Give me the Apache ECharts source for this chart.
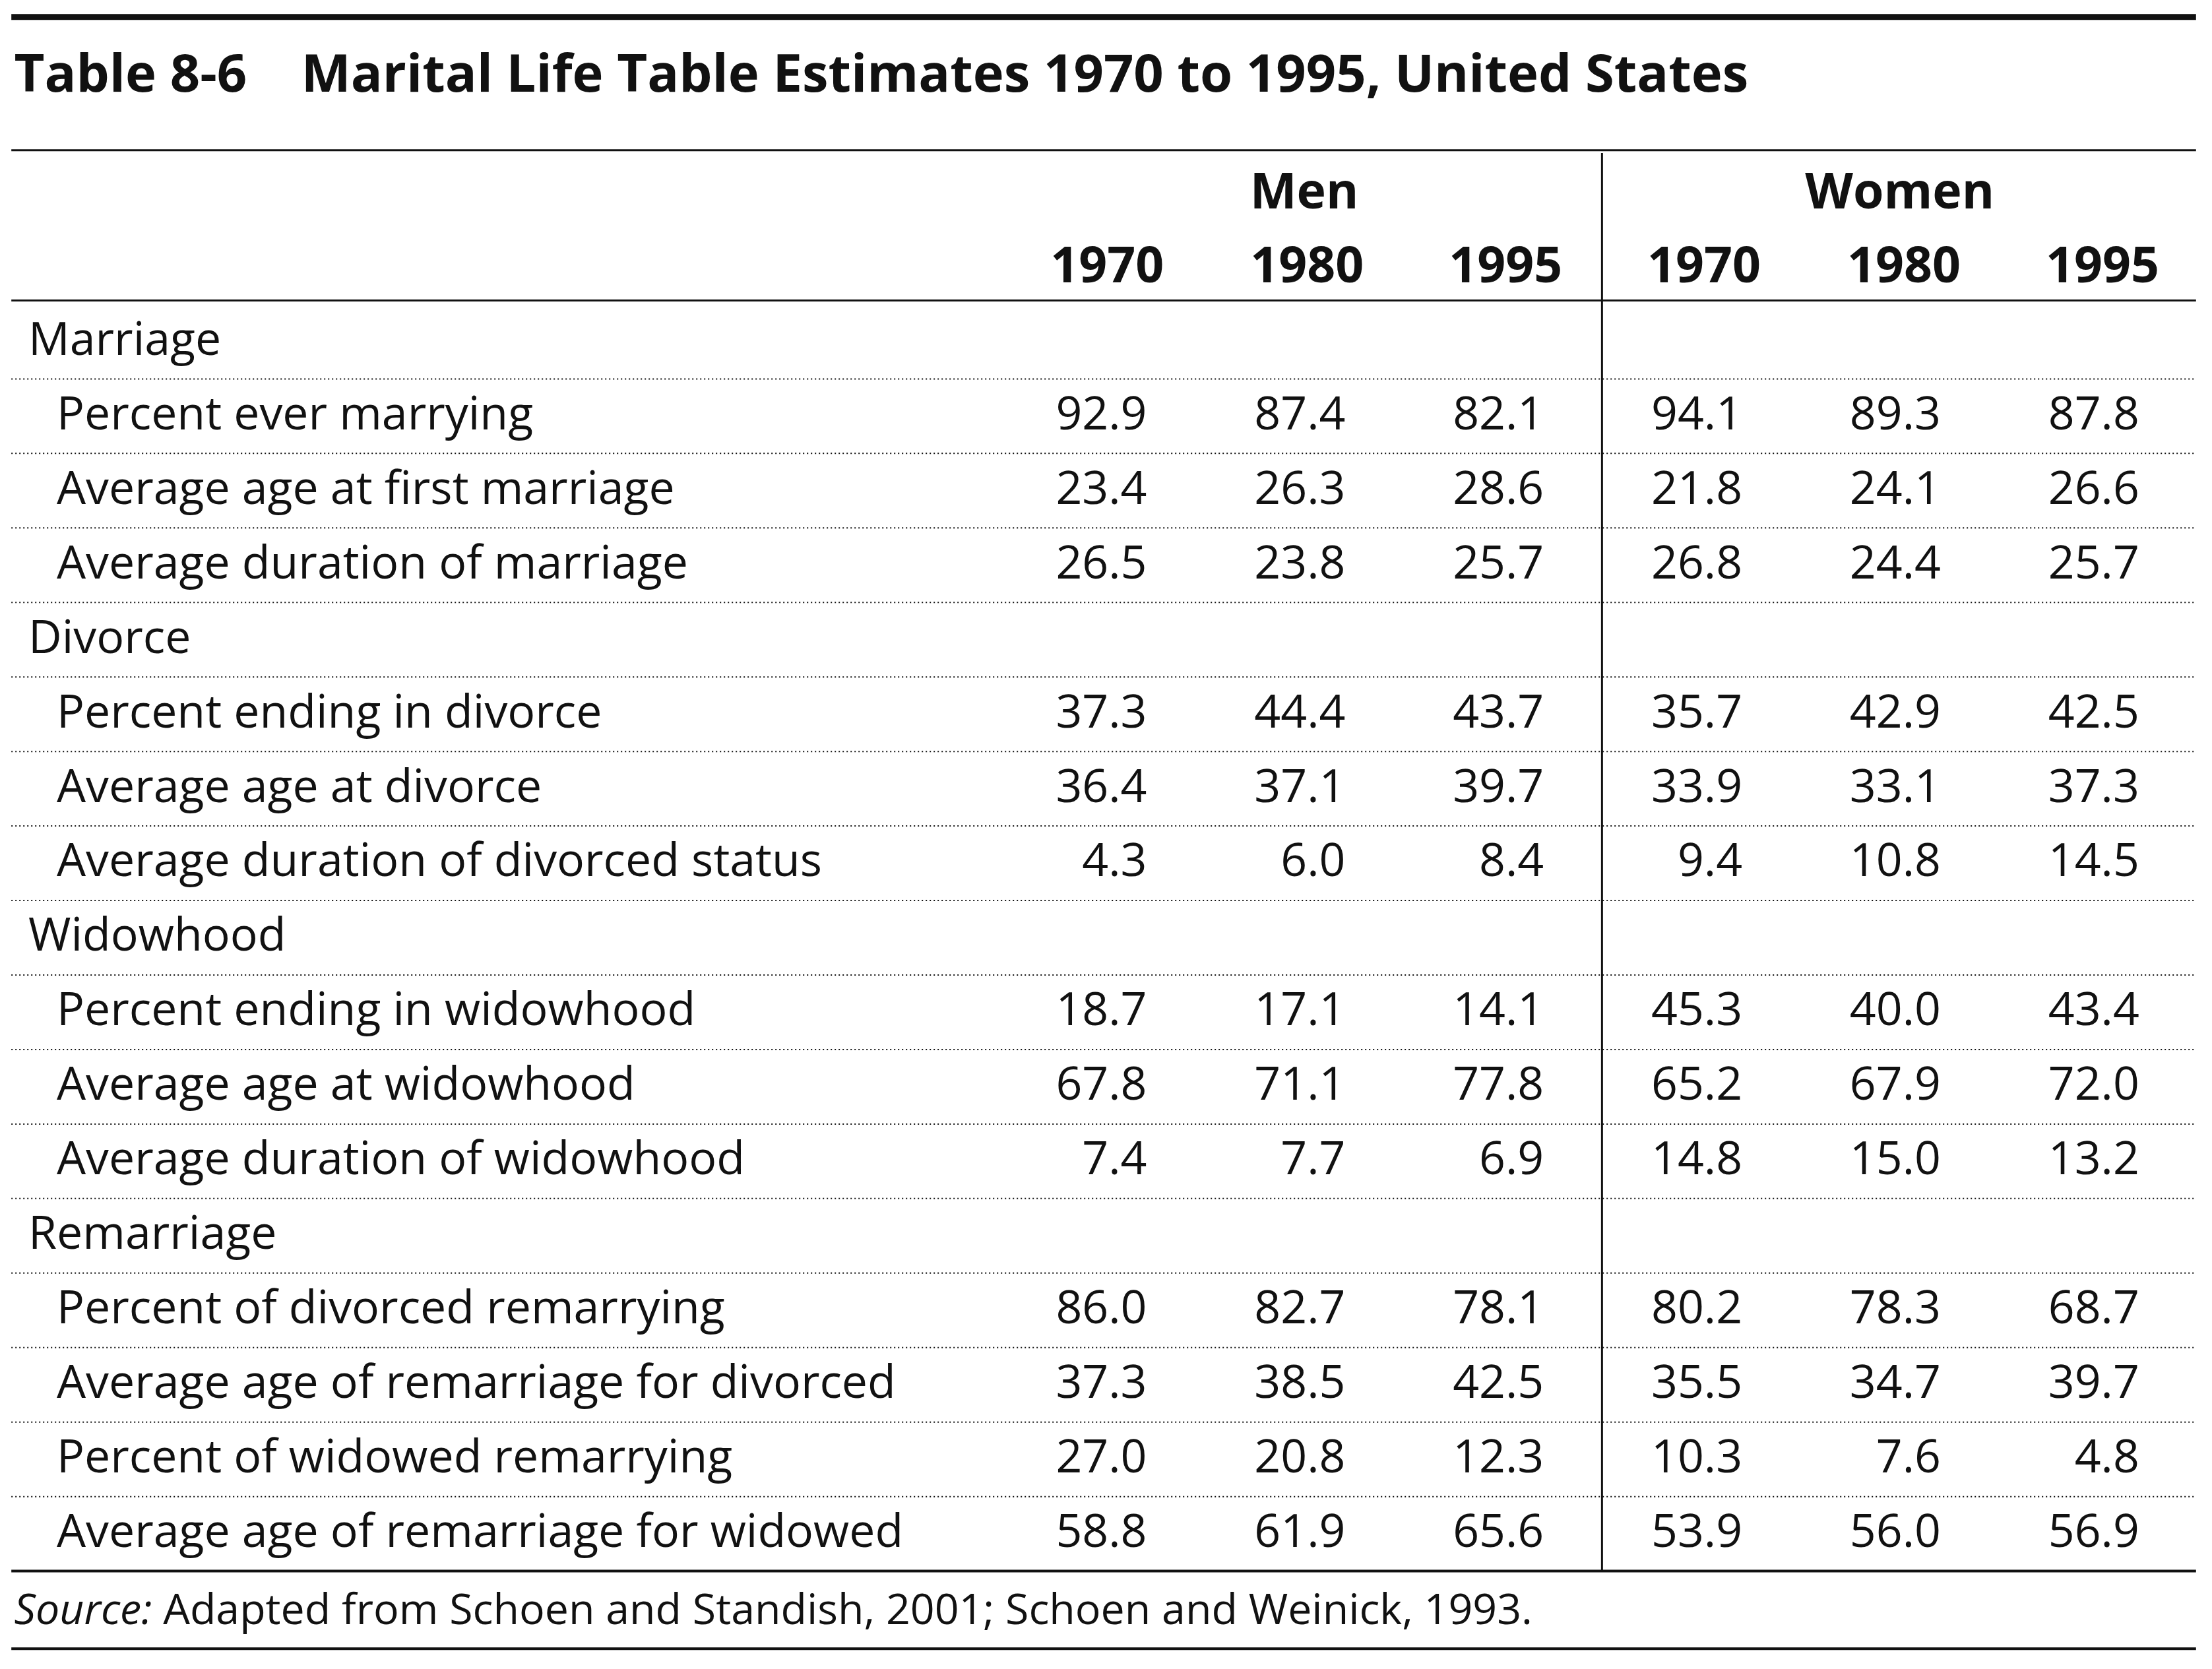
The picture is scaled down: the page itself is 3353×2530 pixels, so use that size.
<!DOCTYPE html>
<html>
<head>
<meta charset="utf-8"/>
<title>Table 8-6</title>
<script src="https://cdn.jsdelivr.net/npm/echarts@6/dist/echarts.min.js"></script>
<style>html,body{margin:0;background:#fff}#main{width:3353px;height:2530px}</style>
</head>
<body>
<div id="main"></div>
<script>
var title = 'Table 8-6    Marital Life Table Estimates 1970 to 1995, United States';
var groups = ['Men', 'Women'];
var years = ['1970', '1980', '1995', '1970', '1980', '1995'];
var sections = ['Marriage', 'Divorce', 'Widowhood', 'Remarriage'];
var rowLabels = [
    ['Percent ever marrying', 'Average age at first marriage', 'Average duration of marriage'],
    ['Percent ending in divorce', 'Average age at divorce', 'Average duration of divorced status'],
    ['Percent ending in widowhood', 'Average age at widowhood', 'Average duration of widowhood'],
    ['Percent of divorced remarrying', 'Average age of remarriage for divorced', 'Percent of widowed remarrying', 'Average age of remarriage for widowed']
];
var values = [
    [['92.9','87.4','82.1','94.1','89.3','87.8'], ['23.4','26.3','28.6','21.8','24.1','26.6'], ['26.5','23.8','25.7','26.8','24.4','25.7']],
    [['37.3','44.4','43.7','35.7','42.9','42.5'], ['36.4','37.1','39.7','33.9','33.1','37.3'], ['4.3','6.0','8.4','9.4','10.8','14.5']],
    [['18.7','17.1','14.1','45.3','40.0','43.4'], ['67.8','71.1','77.8','65.2','67.9','72.0'], ['7.4','7.7','6.9','14.8','15.0','13.2']],
    [['86.0','82.7','78.1','80.2','78.3','68.7'], ['37.3','38.5','42.5','35.5','34.7','39.7'], ['27.0','20.8','12.3','10.3','7.6','4.8'], ['58.8','61.9','65.6','53.9','56.0','56.9']]
];
var sourceNote = 'Adapted from Schoen and Standish, 2001; Schoen and Weinick, 1993.';

var S = 2.149;
var FONT = '"Open Sans", "Noto Sans", sans-serif';
var FS = 32.5 * S;
var HS = 35 * S;
var valRight = [809, 949, 1089, 1229, 1369, 1509];
var yearRight = [821, 962, 1102, 1242, 1383, 1523];
var L = 8, R = 1549, divX = 1130;
var rowTop = 241, pitch = 52.56;

var g = [];
function txt(x, y, s, opt) {
    opt = opt || {};
    g.push({type: 'text', x: x * S, y: y * S, style: {
        text: s, font: (opt.style || '') + ' ' + (opt.weight || 'normal') + ' ' + (opt.size || FS) + 'px ' + FONT,
        fill: '#111', textAlign: opt.align || 'left', textVerticalAlign: 'middle'
    }});
}
function line(x1, y1, x2, y2, w, dash) {
    g.push({type: 'line', shape: {x1: x1 * S, y1: y1 * S, x2: x2 * S, y2: y2 * S},
        style: {stroke: '#111', lineWidth: w, lineDash: dash || null}});
}

line(L, 12, R, 12, 9);
txt(L + 2, 54, title, {weight: 'bold', size: 37 * S});
line(L, 106, R, 106, 3);
txt(920, 137, groups[0], {weight: 'bold', align: 'center', size: HS});
txt(1340, 137, groups[1], {weight: 'bold', align: 'center', size: HS});
years.forEach(function (y, i) { txt(yearRight[i], 189, y, {weight: 'bold', align: 'right', size: HS}); });
line(L, 212, R, 212, 3);

var r = 0;
sections.forEach(function (sec, si) {
    var y = rowTop + r * pitch;
    txt(20, y, sec);
    line(L, y + pitch / 2, R, y + pitch / 2, 2, [2, 4]);
    r++;
    rowLabels[si].forEach(function (lab, li) {
        var yy = rowTop + r * pitch;
        txt(40, yy, lab);
        values[si][li].forEach(function (v, c) { txt(valRight[c], yy, v, {align: 'right'}); });
        var last = si === sections.length - 1 && li === rowLabels[si].length - 1;
        if (!last) line(L, yy + pitch / 2, R, yy + pitch / 2, 2, [2, 4]);
        r++;
    });
});
var bottom = rowTop + (r - 1) * pitch + pitch / 2;
line(L, bottom, R, bottom, 4);
line(divX, 108, divX, bottom, 3);

g.push({type: 'text', x: 10 * S, y: 1137 * S, style: {
    text: '{i|Source:} ' + sourceNote, textVerticalAlign: 'middle',
    font: 'normal ' + (30 * S) + 'px ' + FONT, fill: '#111',
    rich: {i: {fontStyle: 'italic', fontSize: 30 * S, fontFamily: '"Open Sans", sans-serif'}}
}});
line(L, 1163, R, 1163, 4);

var chart = echarts.init(document.getElementById('main'));
chart.setOption({backgroundColor: '#fff', animation: false, graphic: {elements: g}});
</script>
</body>
</html>
